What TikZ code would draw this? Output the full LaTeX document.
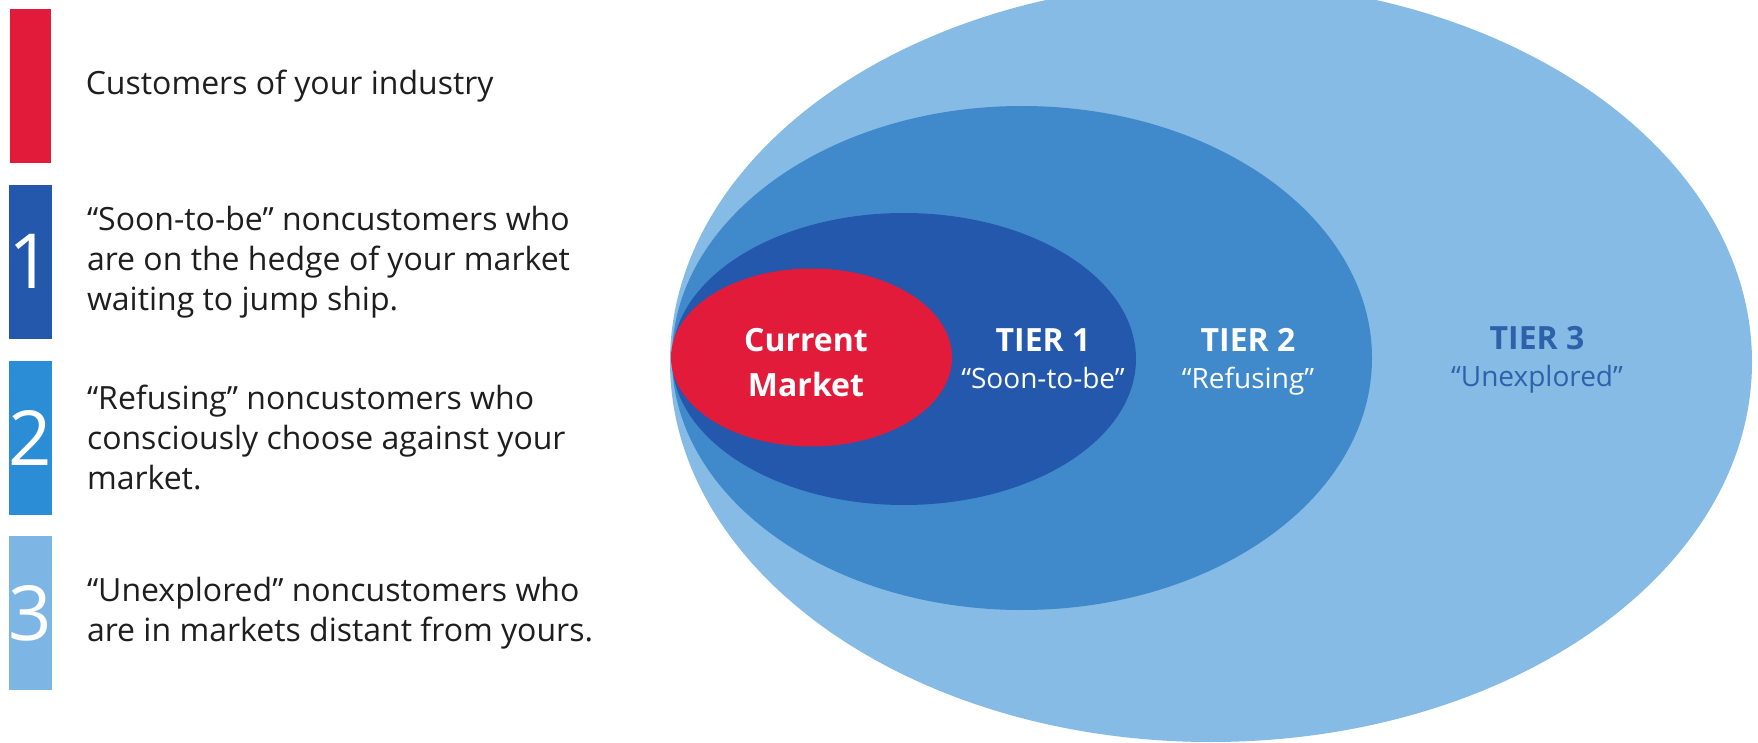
\documentclass[tikz,border=0pt]{standalone}
\usepackage{fontspec}
\setmainfont{Open Sans}
\usetikzlibrary{shapes.geometric, positioning}

\definecolor{mktred}{HTML}{E31B3A}
\definecolor{tierone}{HTML}{2458AC}
\definecolor{tiertwo}{HTML}{408ACC}
\definecolor{tierthree}{HTML}{85BBE4}
\definecolor{bartwo}{HTML}{2B8DD6}
\definecolor{barthree}{HTML}{7DB5E4}
\definecolor{labelblue}{HTML}{2D62AA}
\definecolor{bodytext}{HTML}{1E1E1E}

\begin{document}
\begin{tikzpicture}[x=0.5pt, y=-0.5pt, node distance = 10.5pt and 17pt]
        \tikzstyle{tier} = [ellipse, inner sep=0pt, draw=none]
        \tikzstyle{bar} = [rectangle, minimum width=20.5pt, minimum height=77pt, inner sep=0pt, text=white, font=\fontsize{38}{38}\selectfont]
        \tikzstyle{legend} = [align=left, inner sep=0pt, text=bodytext, font=\fontsize{16}{20}\selectfont]
        \tikzstyle{tiername} = [inner sep=0pt, text=white, font=\fontsize{16}{22.5}\selectfont\bfseries]
        \tikzstyle{tiersub} = [inner sep=0pt, text=white, font=\fontsize{14}{17}\selectfont]
        \useasboundingbox (0,0) rectangle (1758,743);
        \clip (0,0) rectangle (1758,743);
        % nested markets
        \node[tier, fill=tierthree, minimum width=541pt, minimum height=380pt] (tier3) at (1211,362) {};
        \node[tier, fill=tiertwo, minimum width=350pt, minimum height=252pt] (tier2) at (1022,358) {};
        \node[tier, fill=tierone, minimum width=232pt, minimum height=146pt] (tier1) at (904,359) {};
        \node[tier, fill=mktred, minimum width=140.5pt, minimum height=89pt] (current) at (811.5,357.5) {};
        \node[tiername, align=center] (cm) at (806,363) {Current\\Market};
        \node[tiername, anchor=base] (t1) at (1043,352) {TIER 1};
        \node[tiersub, below=7pt of t1] (t1sub) {“Soon-to-be”};
        \node[tiername, anchor=base] (t2) at (1248,352) {TIER 2};
        \node[tiersub, below=7pt of t2] (t2sub) {“Refusing”};
        \node[tiername, anchor=base, text=labelblue] (t3) at (1537,350) {TIER 3};
        \node[tiersub, below=7pt of t3, text=labelblue] (t3sub) {“Unexplored”};
        % legend
        \node[bar, fill=mktred] (bar0) at (30.5,86) {};
        \node[bar, fill=tierone, below=of bar0] (bar1) {1};
        \node[bar, fill=bartwo, below=of bar1] (bar2) {2};
        \node[bar, fill=barthree, below=of bar2] (bar3) {3};
        \node[legend, right=of bar0] (txt0) {Customers of your industry};
        \node[legend, right=of bar1] (txt1) {“Soon-to-be” noncustomers who\\are on the hedge of your market\\waiting to jump ship.};
        \node[legend, right=of bar2] (txt2) {“Refusing” noncustomers who\\consciously choose against your\\market.};
        \node[legend, right=of bar3] (txt3) {“Unexplored” noncustomers who\\are in markets distant from yours.};
      \end{tikzpicture}
\end{document}
